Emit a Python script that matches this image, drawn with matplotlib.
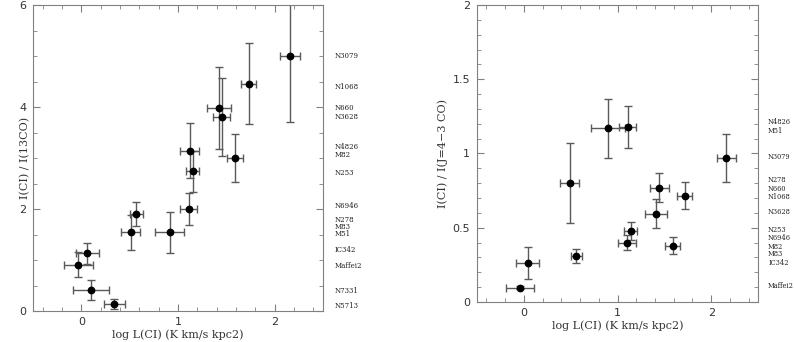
import matplotlib.pyplot as plt
from matplotlib.ticker import MultipleLocator
import matplotlib.transforms as mtransforms

# left panel: I(CI)/I(13CO)
x1 = [-0.03, 0.06, 0.10, 0.34, 0.51, 0.57, 0.915, 1.11, 1.12, 1.15, 1.42, 1.45, 1.59, 1.73, 2.16]
x1err = [0.15, 0.12, 0.19, 0.11, 0.10, 0.07, 0.15, 0.085, 0.10, 0.07, 0.125, 0.09, 0.08, 0.077, 0.10]
y1 = [0.91, 1.13, 0.41, 0.13, 1.54, 1.90, 1.54, 2.00, 3.14, 2.74, 3.98, 3.80, 3.00, 4.46, 5.00]
y1err = [0.25, 0.21, 0.19, 0.10, 0.35, 0.23, 0.41, 0.32, 0.54, 0.40, 0.81, 0.77, 0.47, 0.80, 1.29]
lab1 = ['N3079', 'N1068', 'N660', 'N3628', 'N4826', 'M82', 'N253', 'N6946',
        'N278', 'M83', 'M51', 'IC342', 'Maffei2', 'N7331', 'N5713']
lab1_y = [5.0, 4.4, 3.99, 3.80, 3.21, 3.05, 2.70, 2.05, 1.79, 1.65, 1.51, 1.20, 0.89, 0.40, 0.10]

# right panel: I(CI)/I(J=4-3 CO)
x2 = [-0.046, 0.04, 0.49, 0.56, 0.90, 1.11, 1.10, 1.14, 1.41, 1.445, 1.59, 1.72, 2.16]
x2err = [0.15, 0.125, 0.10, 0.06, 0.18, 0.09, 0.10, 0.07, 0.12, 0.10, 0.08, 0.08, 0.10]
y2 = [0.097, 0.263, 0.80, 0.31, 1.17, 1.18, 0.40, 0.48, 0.595, 0.77, 0.38, 0.715, 0.97]
y2err = [0.01, 0.11, 0.27, 0.05, 0.20, 0.14, 0.05, 0.06, 0.10, 0.10, 0.06, 0.09, 0.16]
lab2 = ['N4826', 'M51', 'N3079', 'N278', 'N660', 'N1068', 'N3628',
        'N253', 'N6946', 'M82', 'M83', 'IC342', 'Maffei2']
lab2_y = [1.21, 1.15, 0.973, 0.82, 0.764, 0.708, 0.604, 0.485, 0.43, 0.37, 0.324, 0.263, 0.106]

fig = plt.figure(figsize=(7.94, 3.42), dpi=100)
ax1 = fig.add_axes([0.0416, 0.0906, 0.3652, 0.8947])
ax2 = fig.add_axes([0.6008, 0.117, 0.3539, 0.8684])

serif = 'DejaVu Serif'
frame = '#808080'
txt = '#333333'


def panel(ax, x, xe, y, ye, labs, laby, ylim, ymaj, ymin, ylab, labx, ylx, namesize):
    ax.errorbar(x, y, xerr=xe, yerr=ye, fmt='o', color='black', ms=4.6,
                ecolor='#5a5a5a', elinewidth=1, capsize=3.2, capthick=1)
    ax.set_xlim(-0.5, 2.5)
    ax.set_ylim(*ylim)
    ax.xaxis.set_major_locator(MultipleLocator(1))
    ax.xaxis.set_minor_locator(MultipleLocator(0.2))
    ax.yaxis.set_major_locator(MultipleLocator(ymaj))
    ax.yaxis.set_minor_locator(MultipleLocator(ymin))
    ax.tick_params(which='both', direction='in', top=True, right=True,
                   color=frame, labelsize=8, labelcolor=txt)
    ax.tick_params(which='major', length=5)
    ax.tick_params(which='minor', length=3)
    ax.tick_params(axis='x', pad=4)
    ax.tick_params(axis='y', pad=5)
    for s in ax.spines.values():
        s.set_color(frame)
    ax.set_xlabel('log L(CI) (K km/s kpc2)', family=serif, fontsize=8, color=txt, labelpad=2)
    ax.set_ylabel(ylab, family=serif, fontsize=8, color=txt)
    ax.yaxis.set_label_coords(ylx, 0.5)
    tr = mtransforms.blended_transform_factory(ax.transAxes, ax.transData)
    for t, yy in zip(labs, laby):
        ax.text(labx, yy, t, transform=tr, family=serif, fontsize=namesize,
                color='#222222', va='center', ha='left')


plt.rcParams['font.family'] = serif

panel(ax1, x1, x1err, y1, y1err, lab1, lab1_y, (0, 6), 2, 0.5,
      'I(CI) / I(13CO)', 1.04, -0.01, 5)
panel(ax2, x2, x2err, y2, y2err, lab2, lab2_y, (0, 2), 0.5, 0.1,
      'I(CI) / I(J=4\u22123 CO)', 1.036, -0.105, 4.8)
ax2.set_yticks([0, 0.5, 1, 1.5, 2])
ax2.set_yticklabels(['0', '0.5', '1', '1.5', '2'])

fig.savefig('out.png', dpi=100)
